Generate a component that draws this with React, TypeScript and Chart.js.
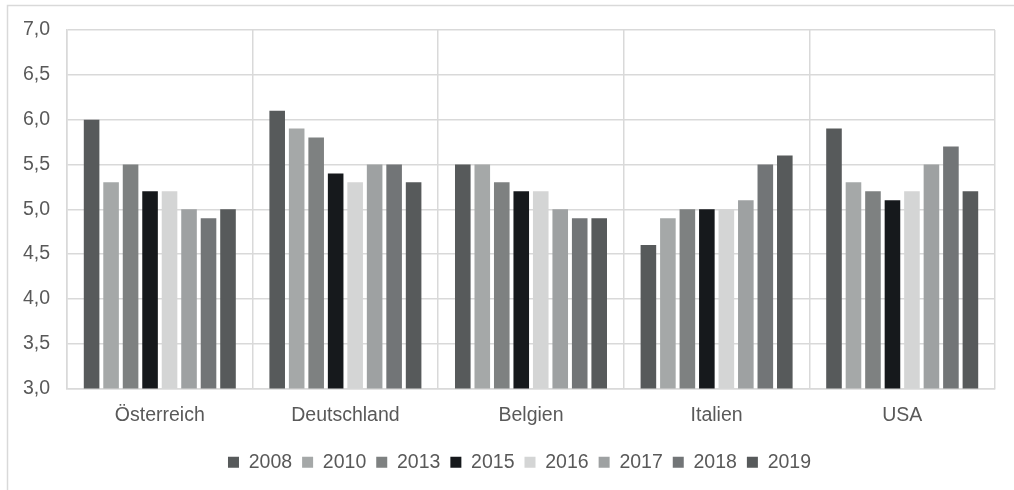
import React, { useEffect, useRef } from "react";
import { Chart, registerables } from "chart.js";

Chart.register(...registerables);

const categories = ["Österreich", "Deutschland", "Belgien", "Italien", "USA"];
const years = ["2008", "2010", "2013", "2015", "2016", "2017", "2018", "2019"];
const colors = ["#575a5b", "#a5a8a8", "#7e8181", "#16191c", "#d4d5d5", "#9ea1a2", "#727577", "#575a5b"];

const v2008 = [6.0, 6.1, 5.5, 4.6, 5.9];
const v2010 = [5.3, 5.9, 5.5, 4.9, 5.3];
const v2013 = [5.5, 5.8, 5.3, 5.0, 5.2];
const v2015 = [5.2, 5.4, 5.2, 5.0, 5.1];
const v2016 = [5.2, 5.3, 5.2, 5.0, 5.2];
const v2017 = [5.0, 5.5, 5.0, 5.1, 5.5];
const v2018 = [4.9, 5.5, 4.9, 5.5, 5.7];
const v2019 = [5.0, 5.3, 4.9, 5.6, 5.2];
const seriesValues = [v2008, v2010, v2013, v2015, v2016, v2017, v2018, v2019];

const FONT = "'Liberation Sans', Arial, sans-serif";
const TEXT = "#595959";
const GRID = "#d9d9d9";

const framePlugin = {
  id: "frame",
  afterLayout(chart: any) {
    if (chart.legend) {
      chart.legend.left += 22;
      chart.legend.right += 22;
    }
  },
  afterDraw(chart: any) {
    const ctx = chart.ctx;
    ctx.save();
    ctx.strokeStyle = GRID;
    ctx.lineWidth = 1.5;
    ctx.beginPath();
    ctx.moveTo(7.5, chart.height);
    ctx.lineTo(7.5, 5.5);
    ctx.lineTo(chart.width, 5.5);
    ctx.stroke();
    ctx.restore();
  },
};

export default function App() {
  const ref = useRef<HTMLCanvasElement | null>(null);
  useEffect(() => {
    document.body.style.margin = "0";
    const chart = new Chart(ref.current as HTMLCanvasElement, {
      type: "bar",
      data: {
        labels: categories,
        datasets: years.map((y, i) => ({
          label: y,
          data: seriesValues[i],
          backgroundColor: colors[i],
          borderWidth: 0,
          barPercentage: 0.8,
          categoryPercentage: 0.84,
        })),
      },
      options: {
        animation: false,
        responsive: false,
        maintainAspectRatio: false,
        layout: { padding: { top: 30, right: 19, bottom: 8, left: 0 } },
        plugins: {
          legend: {
            position: "bottom",
            labels: {
              boxWidth: 11,
              boxHeight: 11,
              padding: 10,
              color: TEXT,
              font: { family: FONT, size: 19.5 },
            },
          },
          tooltip: { enabled: false },
        },
        scales: {
          x: {
            grid: { color: GRID, lineWidth: 1.5, drawTicks: false, offset: true },
            border: { color: GRID, width: 1.5 },
            ticks: { color: TEXT, font: { family: FONT, size: 19.5 }, padding: 15 },
            afterFit(scale: any) {
              scale.height = 54;
            },
          },
          y: {
            min: 3,
            max: 7,
            grid: { color: GRID, lineWidth: 1.5, drawTicks: false },
            border: { color: GRID, width: 1.5 },
            ticks: {
              stepSize: 0.5,
              color: TEXT,
              padding: 17,
              font: { family: FONT, size: 19.5 },
              callback: (v: any) => Number(v).toFixed(1).replace(".", ","),
            },
            afterFit(scale: any) {
              scale.width = 67;
            },
          },
        },
      },
      plugins: [framePlugin],
    });
    return () => chart.destroy();
  }, []);
  return (
    <div style={{ width: 1014, height: 490 }}>
      <canvas ref={ref} width={1014} height={490} style={{ display: "block" }} />
    </div>
  );
}
